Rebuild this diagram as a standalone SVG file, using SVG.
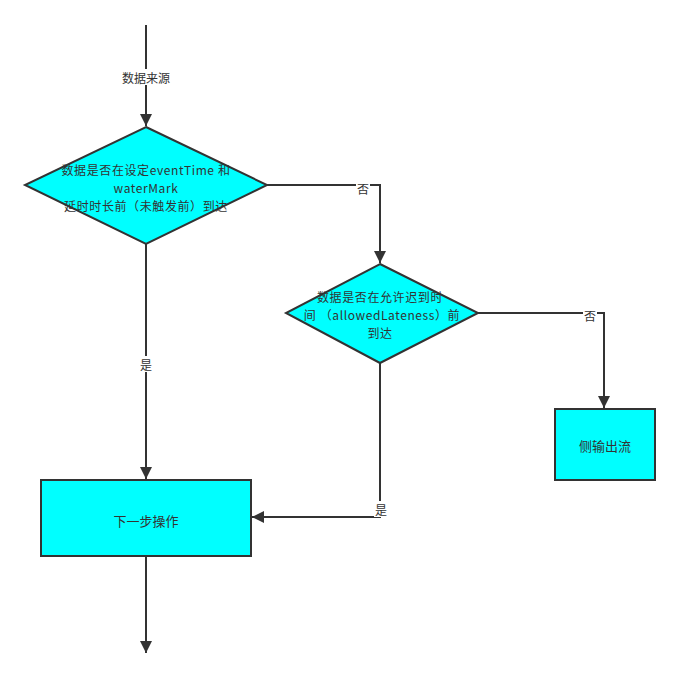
<svg xmlns="http://www.w3.org/2000/svg" width="680" height="679" viewBox="0 0 680 679">
<style>
.shape{fill:#00FFFF;stroke:#333333;stroke-width:2}
.edge{fill:none;stroke:#333333;stroke-width:2}
text{font-family:"Microsoft YaHei","Noto Sans CJK SC","Liberation Sans",sans-serif;font-size:12px;fill:#333333;text-anchor:middle;dominant-baseline:central}
.big{font-size:12px;letter-spacing:0.6px}
.node{font-size:13px}
.bg{fill:#ffffff}
</style>
<defs>
<marker id="arr" viewBox="0 0 10 10" refX="10" refY="5" markerWidth="12" markerHeight="12" markerUnits="userSpaceOnUse" orient="auto">
<path d="M0,0 L10,5 L0,10 Z" fill="#333333"/>
</marker>
</defs>
<rect width="680" height="679" fill="#ffffff"/>
<g id="connectors">
<path class="edge" d="M146,25 V126" marker-end="url(#arr)"/>
<rect class="bg" x="118" y="69" width="56" height="16"/>
<text x="146" y="77">数据来源</text>
<path class="edge" d="M267,185 H380 V263" marker-end="url(#arr)"/>
<rect class="bg" x="356" y="180" width="14" height="16"/>
<text x="363" y="188">否</text>
<path class="edge" d="M478,313 H604 V408" marker-end="url(#arr)"/>
<rect class="bg" x="583" y="307" width="14" height="16"/>
<text x="590" y="315">否</text>
<path class="edge" d="M146,244 V479" marker-end="url(#arr)"/>
<rect class="bg" x="139" y="356" width="14" height="16"/>
<text x="146" y="364">是</text>
<path class="edge" d="M380,363 V517 H252" marker-end="url(#arr)"/>
<rect class="bg" x="374" y="501" width="14" height="16"/>
<text x="381" y="509">是</text>
<path class="edge" d="M146,556 V653" marker-end="url(#arr)"/>
</g>
<g id="decision1">
<polygon class="shape" points="146,127 267,185 146,244 25,185"/>
<text class="big" x="146" y="169">数据是否在设定eventTime 和</text>
<text class="big" x="146" y="187">waterMark</text>
<text class="big" x="146" y="205">延时时长前（未触发前）到达</text>
</g>
<g id="decision2">
<polygon class="shape" points="380,264 478,313 380,363 286,313"/>
<text class="big" x="380" y="296">数据是否在允许迟到时</text>
<text class="big" x="382" y="314">间 （allowedLateness）前</text>
<text class="big" x="380" y="332">到达</text>
</g>
<g id="sideOutput">
<rect class="shape" x="555" y="409" width="100" height="71"/>
<text class="node" x="605" y="445">侧输出流</text>
</g>
<g id="nextStep">
<rect class="shape" x="41" y="480" width="210" height="76"/>
<text class="node" x="146" y="520">下一步操作</text>
</g>
</svg>
